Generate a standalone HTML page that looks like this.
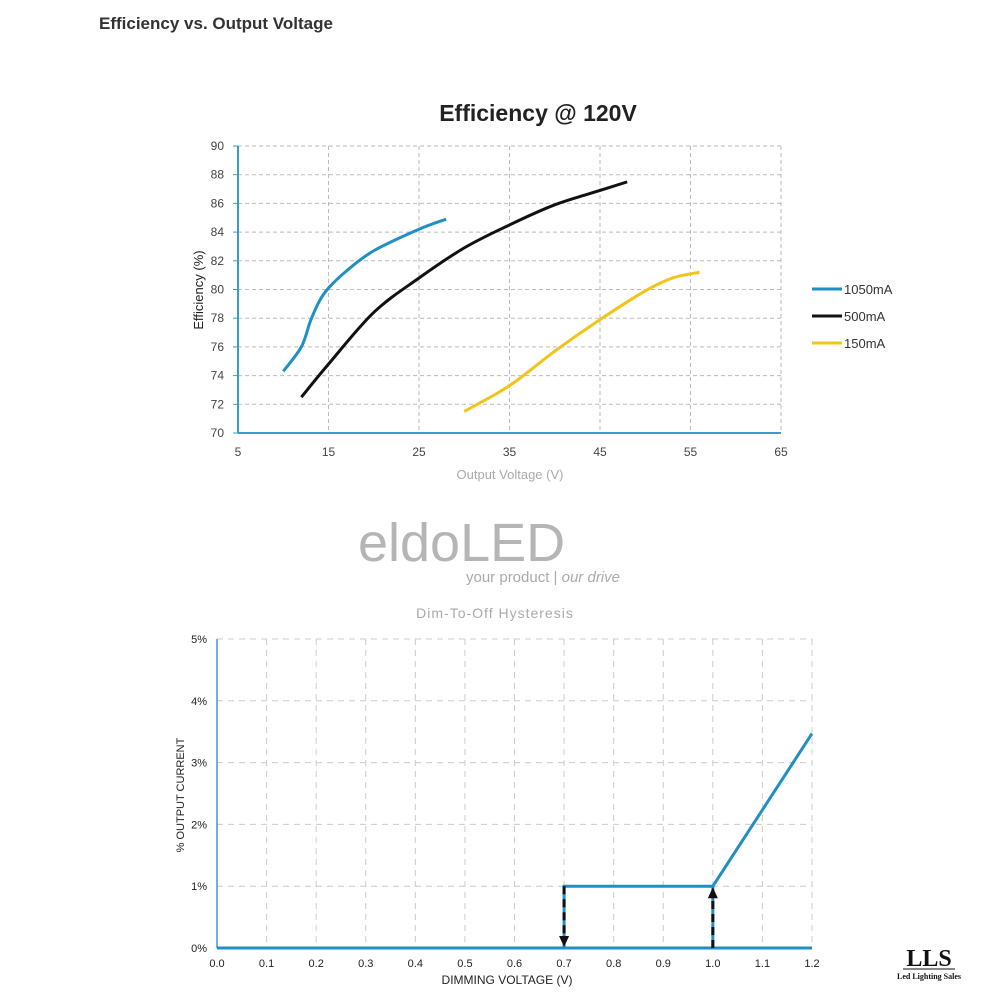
<!DOCTYPE html>
<html><head><meta charset="utf-8"><style>
html,body{margin:0;padding:0;background:#fff;width:1000px;height:1000px;overflow:hidden}
svg{display:block}
</style></head><body>
<svg id="s" width="1000" height="1000" xmlns="http://www.w3.org/2000/svg" font-family="Liberation Sans, DejaVu Sans, sans-serif">
<text x="99" y="29" font-size="17" font-weight="bold" fill="#333">Efficiency vs. Output Voltage</text>
<text x="538" y="121" font-size="23" font-weight="bold" fill="#222" text-anchor="middle">Efficiency @ 120V</text>
<g id="gtop"></g>
<text x="203" y="290" font-size="13" fill="#222" transform="rotate(-90 203 290)" text-anchor="middle">Efficiency (%)</text>
<text x="510" y="479" font-size="13" fill="#aaa" text-anchor="middle">Output Voltage (V)</text>
<line x1="812" y1="289" x2="842" y2="289" stroke="#1f8fc4" stroke-width="3"/>
<text x="844" y="294" font-size="13" fill="#333">1050mA</text>
<line x1="812" y1="316" x2="842" y2="316" stroke="#111" stroke-width="3"/>
<text x="844" y="321" font-size="13" fill="#333">500mA</text>
<line x1="812" y1="343" x2="842" y2="343" stroke="#f0c419" stroke-width="3"/>
<text x="844" y="348" font-size="13" fill="#333">150mA</text>
<text x="358" y="561" font-size="54" fill="#b5b5b5">eldoLED</text>
<text x="466" y="582" font-size="15" fill="#aaa">your product | <tspan font-style="italic">our drive</tspan></text>
<text x="495" y="618" font-size="14" fill="#aaa" text-anchor="middle" letter-spacing="1">Dim-To-Off Hysteresis</text>
<g id="gbot"></g>
<text x="184" y="795" font-size="11" fill="#222" transform="rotate(-90 184 795)" text-anchor="middle">% OUTPUT CURRENT</text>
<text x="507" y="984" font-size="12" fill="#222" text-anchor="middle">DIMMING VOLTAGE (V)</text>
<text x="929" y="966" font-size="24" font-weight="bold" fill="#111" text-anchor="middle" font-family="Liberation Serif, serif">LLS</text>
<line x1="903" y1="969" x2="955" y2="969" stroke="#111" stroke-width="1"/>
<text x="929" y="979" font-size="8" font-weight="bold" fill="#111" text-anchor="middle" font-family="Liberation Serif, serif">Led Lighting Sales</text>
</svg>
<script>
(function(){
var NS="http://www.w3.org/2000/svg";
function el(p,t,a,txt){var e=document.createElementNS(NS,t);for(var k in a)e.setAttribute(k,a[k]);if(txt!=null)e.textContent=txt;p.appendChild(e);return e;}
var g1=document.getElementById('gtop');
var X=function(v){return 238+(v-5)*543/60}, Y=function(v){return 433-(v-70)*287/20};
for(var v=72;v<=90;v+=2)el(g1,'line',{x1:238,x2:781,y1:Y(v),y2:Y(v),stroke:'#bbb','stroke-dasharray':'4,3'});
for(var v=15;v<=65;v+=10)el(g1,'line',{x1:X(v),x2:X(v),y1:146,y2:433,stroke:'#bbb','stroke-dasharray':'4,3'});
el(g1,'line',{x1:238,x2:238,y1:146,y2:433,stroke:'#3a9cc8','stroke-width':2});
el(g1,'line',{x1:238,x2:781,y1:433,y2:433,stroke:'#3a9cc8','stroke-width':2});
for(var v=70;v<=90;v+=2){el(g1,'text',{x:224,y:Y(v)+4,'font-size':12,fill:'#444','text-anchor':'end'},v);el(g1,'line',{x1:233,x2:238,y1:Y(v),y2:Y(v),stroke:'#3a9cc8'});}
for(var v=5;v<=65;v+=10)el(g1,'text',{x:X(v),y:456,'font-size':12,fill:'#444','text-anchor':'middle'},v);
function smooth(pts){var p=pts.map(function(a){return[X(a[0]),Y(a[1])]});var d='M'+p[0][0]+','+p[0][1];
for(var i=0;i<p.length-1;i++){var p0=p[i-1]||p[i],p1=p[i],p2=p[i+1],p3=p[i+2]||p2;
d+=' C'+(p1[0]+(p2[0]-p0[0])/6)+','+(p1[1]+(p2[1]-p0[1])/6)+' '+(p2[0]-(p3[0]-p1[0])/6)+','+(p2[1]-(p3[1]-p1[1])/6)+' '+p2[0]+','+p2[1];}return d;}
el(g1,'path',{d:smooth([[10,74.3],[12,76],[13,77.8],[14,79.2],[15,80.1],[17,81.3],[20,82.7],[25,84.2],[28,84.9]]),fill:'none',stroke:'#1f8fc4','stroke-width':3});
el(g1,'path',{d:smooth([[12,72.5],[15,74.8],[20,78.4],[25,80.8],[30,82.9],[35,84.5],[40,85.9],[45,86.9],[48,87.5]]),fill:'none',stroke:'#111','stroke-width':3});
el(g1,'path',{d:smooth([[30,71.5],[35,73.3],[40,75.7],[45,77.9],[50,79.9],[53,80.8],[56,81.2]]),fill:'none',stroke:'#f0c419','stroke-width':3});
var b=document.getElementById('gbot');
var BX=function(v){return 217+v*595/1.2}, BY=function(v){return 948-v*309/5};
for(var v=1;v<=5;v++)el(b,'line',{x1:217,x2:812,y1:BY(v),y2:BY(v),stroke:'#ccc','stroke-dasharray':'6,5'});
for(var i=1;i<=12;i++)el(b,'line',{x1:BX(i/10),x2:BX(i/10),y1:639,y2:948,stroke:'#ccc','stroke-dasharray':'6,5'});
el(b,'line',{x1:217,x2:217,y1:639,y2:948,stroke:'#3a9cc8','stroke-width':1.5});
for(var v=0;v<=5;v++)el(b,'text',{x:207,y:BY(v)+4,'font-size':11,fill:'#222','text-anchor':'end'},v+'%');
for(var i=0;i<=12;i++)el(b,'text',{x:BX(i/10),y:967,'font-size':11,fill:'#222','text-anchor':'middle'},(i/10).toFixed(1));
el(b,'line',{x1:217,x2:812,y1:948,y2:948,stroke:'#1f8fc4','stroke-width':3});
el(b,'polyline',{points:BX(0.7)+','+BY(0)+' '+BX(0.7)+','+BY(1)+' '+BX(1)+','+BY(1)+' '+BX(1.2)+','+BY(3.47),fill:'none',stroke:'#1f8fc4','stroke-width':3});
el(b,'line',{x1:BX(1),x2:BX(1),y1:BY(0),y2:BY(1),stroke:'#1f8fc4','stroke-width':3});
el(b,'line',{x1:BX(0.7),x2:BX(0.7),y1:BY(1),y2:BY(0)-8,stroke:'#111','stroke-width':3,'stroke-dasharray':'8,5'});
el(b,'line',{x1:BX(1),x2:BX(1),y1:BY(0),y2:BY(1)+8,stroke:'#111','stroke-width':3,'stroke-dasharray':'8,5'});
el(b,'polygon',{points:(BX(0.7)-5)+','+(BY(0)-12)+' '+(BX(0.7)+5)+','+(BY(0)-12)+' '+BX(0.7)+','+(BY(0)-1),fill:'#111'});
el(b,'polygon',{points:(BX(1)-5)+','+(BY(1)+12)+' '+(BX(1)+5)+','+(BY(1)+12)+' '+BX(1)+','+(BY(1)+1),fill:'#111'});
})();
</script>
</body></html>
